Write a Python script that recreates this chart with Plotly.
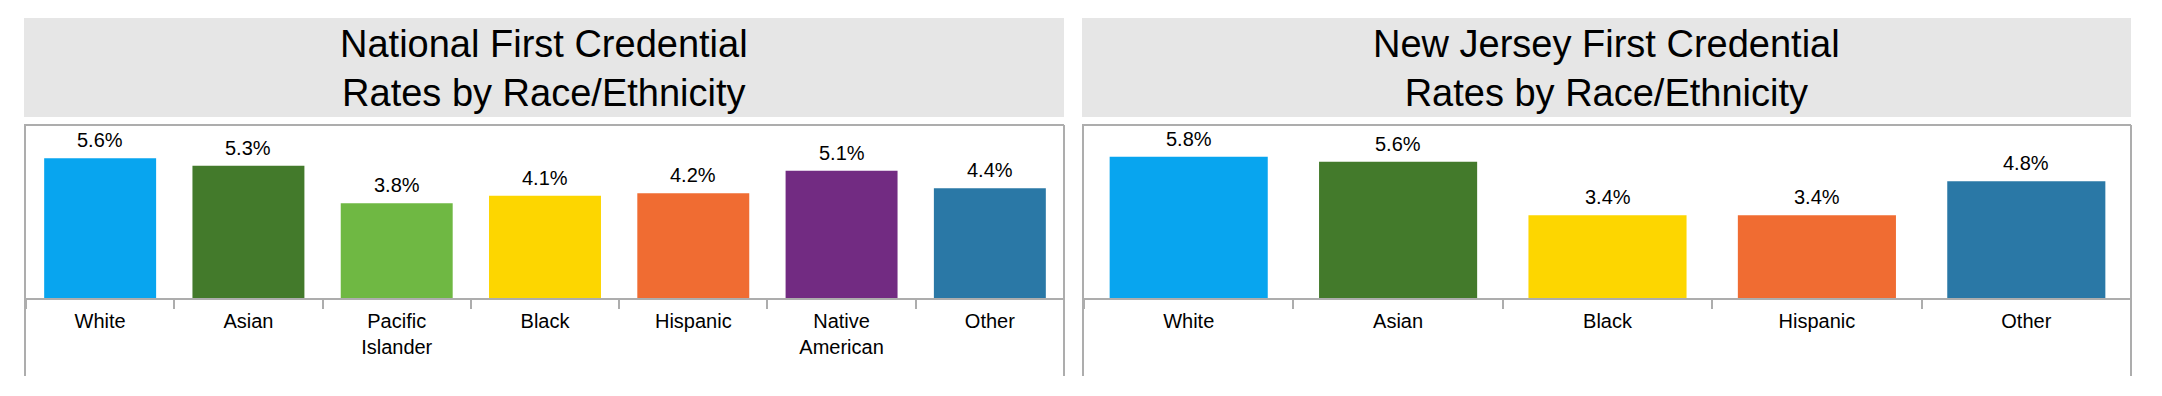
import plotly.graph_objects as go

# ---- data ----
nat_categories = ["White", "Asian", "Pacific<br>Islander", "Black", "Hispanic", "Native<br>American", "Other"]
nat_values = [5.6, 5.3, 3.8, 4.1, 4.2, 5.1, 4.4]
nat_colors = ["#08A5EF", "#437A2B", "#6FB843", "#FDD600", "#F06C32", "#722B82", "#2A78A6"]

nj_categories = ["White", "Asian", "Black", "Hispanic", "Other"]
nj_values = [5.8, 5.6, 3.4, 3.4, 4.8]
nj_colors = ["#08A5EF", "#437A2B", "#FDD600", "#F06C32", "#2A78A6"]

titles = ["National First Credential<br>Rates by Race/Ethnicity",
          "New Jersey First Credential<br>Rates by Race/Ethnicity"]

OFF = 8  # default page body margin
W, H = 2162 - OFF, 396 - OFF
FONT = "Liberation Sans, Arial, Helvetica, sans-serif"
BORDER = "#ADADAD"


def px(x):
    return (x - OFF) / W


def py(y):
    return 1 - (y - OFF) / H


fig = go.Figure()
fig.add_trace(go.Bar(x=nat_categories, y=nat_values, marker=dict(color=nat_colors, line=dict(width=0)),
                     xaxis="x", yaxis="y", showlegend=False, hoverinfo="skip"))
fig.add_trace(go.Bar(x=nj_categories, y=nj_values, marker=dict(color=nj_colors, line=dict(width=0)),
                     xaxis="x2", yaxis="y2", showlegend=False, hoverinfo="skip"))

annotations = []
for cats, vals, xr, yr in [(nat_categories, nat_values, "x", "y"), (nj_categories, nj_values, "x2", "y2")]:
    for c, v in zip(cats, vals):
        annotations.append(dict(x=c, y=v, xref=xr, yref=yr, text=f"{v:.1f}%", showarrow=False,
                                yanchor="bottom", yshift=5, font=dict(size=20, color="#000000", family=FONT)))

base_y = 298.3
top_y = base_y - 175
dom_y = [py(base_y), py(top_y)]

panels = [(24, 1064, 26, 1064), (1082, 2131, 1084, 2131)]
shapes = []
for i, (bx0, bx1, ax0, ax1) in enumerate(panels):
    # title bar
    shapes.append(dict(type="rect", xref="paper", yref="paper", x0=px(bx0), x1=px(bx1), y0=py(117), y1=py(18),
                       fillcolor="#E6E6E6", line=dict(width=0), layer="below"))
    # box: top, left, right
    shapes.append(dict(type="line", xref="paper", yref="paper", x0=px(bx0), x1=px(bx1), y0=py(125), y1=py(125),
                       line=dict(color=BORDER, width=2)))
    shapes.append(dict(type="line", xref="paper", yref="paper", x0=px(bx0 + 1), x1=px(bx0 + 1), y0=py(125), y1=py(376),
                       line=dict(color=BORDER, width=2)))
    shapes.append(dict(type="line", xref="paper", yref="paper", x0=px(bx1), x1=px(bx1), y0=py(125), y1=py(376),
                       line=dict(color=BORDER, width=2)))
    annotations.append(dict(x=px((bx0 + bx1) / 2), y=py(68), xref="paper", yref="paper", text=titles[i],
                            showarrow=False, xanchor="center", yanchor="middle",
                            font=dict(size=38, color="#000000", family=FONT)))

xaxis_common = dict(type="category", showline=True, linecolor=BORDER, linewidth=2, ticks="outside",
                    tickson="boundaries", ticklen=9, tickcolor=BORDER, tickwidth=2, showgrid=False,
                    ticklabelstandoff=4,
                    tickfont=dict(size=20, color="#000000", family=FONT), fixedrange=True)
yaxis_common = dict(showgrid=False, showticklabels=False, zeroline=False, showline=False, ticks="",
                    domain=dom_y, fixedrange=True)

fig.update_layout(
    width=W, height=H,
    margin=dict(l=0, r=0, t=0, b=0),
    paper_bgcolor="#FFFFFF", plot_bgcolor="rgba(0,0,0,0)",
    bargap=0.245,
    xaxis=dict(domain=[px(26), px(1064)], anchor="y", **xaxis_common),
    yaxis=dict(range=[0, 7.0], anchor="x", **yaxis_common),
    xaxis2=dict(domain=[px(1084), px(2131)], anchor="y2", **xaxis_common),
    yaxis2=dict(range=[0, 175 / 24.4], anchor="x2", **yaxis_common),
    shapes=shapes,
    annotations=annotations,
    font=dict(family=FONT),
)

fig.write_html("out.html")
